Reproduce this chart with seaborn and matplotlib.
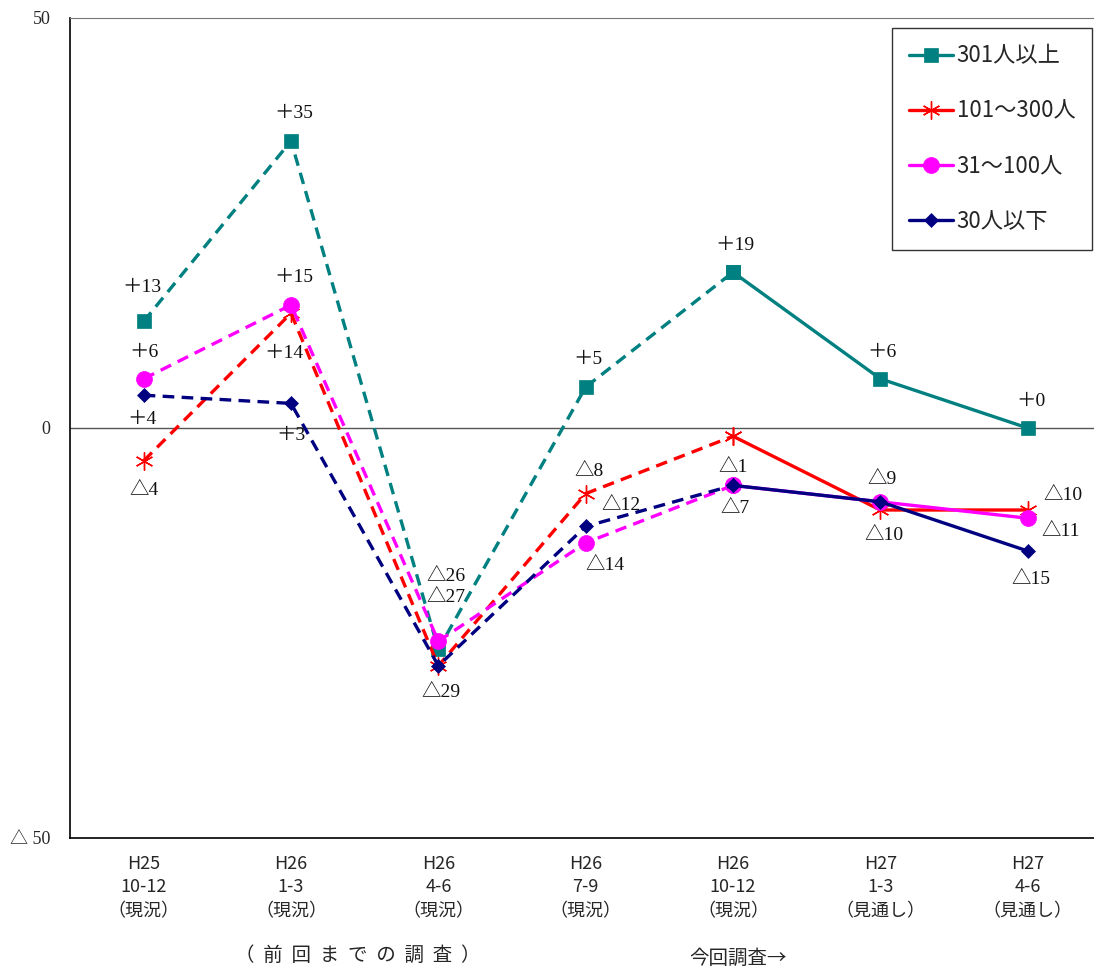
import matplotlib
matplotlib.use('Agg')
import matplotlib.pyplot as plt
from matplotlib.lines import Line2D
import pandas as pd
import seaborn as sns

# data
categories = ['H25\n10-12\n（現況）', 'H26\n1-3\n（現況）', 'H26\n4-6\n（現況）', 'H26\n7-9\n（現況）',
              'H26\n10-12\n（現況）', 'H27\n1-3\n（見通し）', 'H27\n4-6\n（見通し）']
series_names = ['301人以上', '101～300人', '31～100人', '30人以下']
v_301 = [13, 35, -27, 5, 19, 6, 0]
v_101 = [-4, 14, -29, -8, -1, -10, -10]
v_31 = [6, 15, -26, -14, -7, -9, -11]
v_30 = [4, 3, -29, -12, -7, -9, -15]
values = [v_301, v_101, v_31, v_30]

# styles
colors = ['#008080', '#FF0000', '#FF00FF', '#000080']
markers = ['s', (6, 2, 0), 'o', 'D']
msizes = [10.5, 13, 11.5, 7.5]
# label offsets in pixels (dx, dy down), None = no label
offsets = [
    [(-2, -34), (3, -27), (8, -52), (2, -27), (2, -27), (2, -26), (3, -27)],
    [(0, 30), (-7, 40), (3, 27), (3, -22), (0, 31), (4, 26), (35, -15)],
    [(0, -26), (3, -28), (8, -65), (19, 23), (2, 23), None, (33, 13)],
    [(-2, 24), (0, 32), None, (35, -21), None, (2, -22), (3, 29)],
]
split = 4  # dashed up to this index, solid after

sns.set_style('white')
plt.rcParams['font.family'] = ['Noto Sans CJK JP', 'DejaVu Sans']
serif = ['Liberation Serif', 'Noto Sans CJK JP']

fig = plt.figure(figsize=(10.94, 9.67), dpi=100)
ax = fig.add_axes([70 / 1094, 1 - 838 / 967, 1 - 70 / 1094, 820 / 967])

x = list(range(len(categories)))
for name, vals, c, m, ms in zip(series_names, values, colors, markers, msizes):
    df = pd.DataFrame({'x': x, 'y': vals})
    mew = 1 if m == (6, 2, 0) else 0.5
    # dashed part (previous surveys)
    sns.lineplot(data=df.iloc[:split + 1], x='x', y='y', color=c, lw=2.4, ax=ax,
                 marker=m, markersize=ms, markeredgecolor=c, markeredgewidth=mew,
                 linestyle='--')
    ax.lines[-1].set_dashes((3.5, 2.2))
    # solid part (this survey)
    sns.lineplot(data=df.iloc[split:], x='x', y='y', color=c, lw=2.4, ax=ax,
                 marker=m, markersize=ms, markeredgecolor=c, markeredgewidth=mew)

for vals, offs in zip(values, offsets):
    for i, (v, o) in enumerate(zip(vals, offs)):
        if o is None:
            continue
        txt = f'＋{v}' if v >= 0 else f'△{-v}'
        ax.annotate(txt, (i, v), xytext=(o[0], -o[1]), textcoords='offset pixels',
                    ha='center', va='center', fontsize=14, family=serif, color='#111111')

ax.axhline(0, color='#555555', lw=1, zorder=0)
ax.set_xlim(-0.5, 6.45)
ax.set_ylim(-50, 50)
ax.set_yticks([-50, 0, 50])
ax.set_yticklabels(['△ 50', '0', '50'], family=serif, fontsize=13)
ax.set_xticks(x)
ax.set_xticklabels(categories, fontsize=13, linespacing=1.4)
ax.tick_params(axis='both', length=0, pad=12)
ax.tick_params(axis='y', pad=14)
ax.set_xlabel('')
ax.set_ylabel('')
for s in ['left', 'bottom']:
    ax.spines[s].set_color('black')
    ax.spines[s].set_linewidth(1.2)
ax.spines['top'].set_color('#777777')
ax.spines['right'].set_visible(False)

handles = [Line2D([0], [0], color=c, lw=2.4, marker=m, markersize=ms, markeredgecolor=c,
                  markeredgewidth=(1 if m == (6, 2, 0) else 0.5))
           for c, m, ms in zip(colors, markers, msizes)]
leg = ax.legend(handles, series_names, loc='upper right', bbox_to_anchor=(0.998, 0.988),
                borderaxespad=0, fontsize=16, frameon=True, fancybox=False,
                labelspacing=1.45, handlelength=2.0, handletextpad=0.15,
                borderpad=0.75)
leg.get_frame().set_edgecolor('black')
leg.get_frame().set_linewidth(1)

fig.text(358 / 1094, 1 - 955 / 967, '（  前  回  ま  で  の  調  査  ）', ha='center', va='center', fontsize=14)
fig.text(738 / 1094, 1 - 958 / 967, '今回調査→', ha='center', va='center', fontsize=14)

fig.savefig('out.png', dpi=100)
